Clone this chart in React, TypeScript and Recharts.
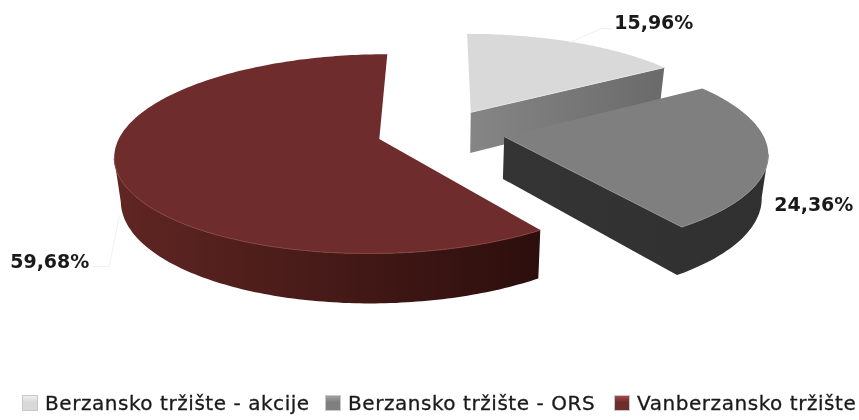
import { PieChart, Pie, Legend } from 'recharts';

const names = ['Berzansko tržište - akcije', 'Berzansko tržište - ORS', 'Vanberzansko tržište'];
const values = [15.96, 24.36, 59.68];

const topColors = ['#d9d9d9', '#7f7f7f', '#6e2c2c'];
const rimColors = ['#e4e4e4', '#8e8e8e', '#84413e'];
const wallLeft = ['#868686', '#343434', '#602623'];
const wallRight = ['#6a6a6a', '#303030', '#2c0e0c'];
const iconEdges = ['#eeeeee', '#a0a0a0', '#a04a48'];

const chartData = names.map((name, i) => ({ name, value: values[i], fill: topColors[i] }));

const FONT = '"DejaVu Sans", sans-serif';
const EXPLODE = 64;
const TILT = 0.3626;
const PERSPECTIVE = 0.00056;
const DEPTH = 42;
const BOTTOM_SHRINK = 0.98;
const X_SQUEEZE = 0.98;

// where each label sits relative to the rim point at the slice's mid angle
const labelOffsets = [
  { dx: 40, dy: -19 },
  { dx: 6, dy: 49 },
  { dx: -106, dy: 93 },
];
const leaders = [
  [[-4, 0], [27, -14], [37, -14]],
  [],
  [[3, 47], [-7, 97], [-24, 97]],
];
const legendLefts = [22, 325, 614];

const rad = (deg: number) => (deg * Math.PI) / 180;

// ground plane point -> screen, with simple perspective
function project(cx: number, cy: number, X: number, Y: number, bottom = false) {
  const s = 1 / (1 - Y * PERSPECTIVE);
  return {
    x: cx + X * s * (bottom ? BOTTOM_SHRINK : 1),
    y: cy + TILT * Y * s + (bottom ? DEPTH * s : 0),
  };
}

function rimPoint(cx: number, cy: number, r: number, mid: number, angle: number, bottom = false) {
  const X = EXPLODE * Math.cos(rad(mid)) + X_SQUEEZE * r * Math.cos(rad(angle));
  const Y = -EXPLODE * Math.sin(rad(mid)) - r * Math.sin(rad(angle));
  return project(cx, cy, X, Y, bottom);
}

const toPath = (pts: { x: number; y: number }[]) =>
  pts.map((p, i) => `${i ? 'L' : 'M'}${p.x.toFixed(1)},${p.y.toFixed(1)}`).join(' ');

function Slice3D(props: any) {
  const { cx, cy, outerRadius, startAngle, endAngle, index } = props;
  const mid = (startAngle + endAngle) / 2;
  const from = Math.min(startAngle, endAngle);
  const to = Math.max(startAngle, endAngle);

  const apexAt = (bottom: boolean) => rimPoint(cx, cy, 0, mid, 0, bottom);
  const arcAngles: number[] = [];
  for (let a = from; a < to; a += 1) arcAngles.push(a);
  arcAngles.push(to);

  const outline = [apexAt(false), ...arcAngles.map((a) => rimPoint(cx, cy, outerRadius, mid, a))];
  const outlineLow = [apexAt(true), ...arcAngles.map((a) => rimPoint(cx, cy, outerRadius, mid, a, true))];
  outline.push(outline[0]);
  outlineLow.push(outlineLow[0]);

  // walls that face the viewer are the runs going left to right
  const walls: string[] = [];
  const rims: string[] = [];
  let run: number[] = [];
  const flush = () => {
    if (!run.length) return;
    const first = run[0];
    const last = run[run.length - 1] + 1;
    const top = outline.slice(first, last + 1);
    const low = outlineLow.slice(first, last + 1).reverse();
    // skip the thin slivers along near vertical cut edges
    if (top[top.length - 1].x - top[0].x > 10) {
      walls.push(toPath([...top, ...low]) + ' Z');
      rims.push(toPath(top));
    }
    run = [];
  };
  for (let i = 0; i < outline.length - 1; i += 1) {
    if (outline[i + 1].x > outline[i].x) run.push(i);
    else flush();
  }
  flush();

  const xs = outline.map((p) => p.x);
  const gradId = `wall-${index}`;

  return (
    <g>
      <defs>
        <linearGradient
          id={gradId}
          gradientUnits="userSpaceOnUse"
          x1={Math.min(...xs)}
          x2={Math.max(...xs)}
          y1={0}
          y2={0}
        >
          <stop offset="0%" stopColor={wallLeft[index]} />
          <stop offset="100%" stopColor={wallRight[index]} />
        </linearGradient>
      </defs>
      {walls.map((d, i) => (
        <path key={i} d={d} fill={`url(#${gradId})`} />
      ))}
      <path d={toPath(outline) + ' Z'} fill={topColors[index]} />
      {rims.map((d, i) => (
        <path key={i} d={d} fill="none" stroke={rimColors[index]} strokeWidth={1} />
      ))}
    </g>
  );
}

function renderLabel(props: any) {
  const { cx, cy, outerRadius, midAngle, index, value } = props;
  const rim = rimPoint(cx, cy, outerRadius, midAngle, midAngle);
  const off = labelOffsets[index];
  const line = leaders[index].map(([dx, dy]) => `${rim.x + dx},${rim.y + dy}`).join(' ');
  return (
    <g key={index}>
      {line && <polyline points={line} fill="none" stroke="#f0f0f0" strokeWidth={1} />}
      <text
        x={rim.x + off.dx}
        y={rim.y + off.dy}
        fontFamily={FONT}
        fontSize={19}
        fontWeight={700}
        fill="#1a1a1a"
        dominantBaseline="middle"
      >
        {value.toFixed(2).replace('.', ',')}%
      </text>
    </g>
  );
}

function renderLegend({ payload }: any) {
  return (
    <div style={{ position: 'relative', height: 24, fontFamily: FONT, fontSize: 20, letterSpacing: 0.55, color: '#1a1a1a', WebkitTextStroke: '0.3px #1a1a1a' }}>
      {(payload || []).map((entry: any, i: number) => (
        <div
          key={entry.value}
          style={{ position: 'absolute', left: legendLefts[i], top: 0, whiteSpace: 'nowrap', display: 'flex', alignItems: 'center', gap: 7 }}
        >
          <span
            style={{
              width: 14,
              height: 14,
              background: `linear-gradient(${iconEdges[i]}, ${entry.color} 45%)`,
              border: '1px solid #c8c8c8',
              display: 'inline-block',
            }}
          />
          <span>{entry.value}</span>
        </div>
      ))}
    </div>
  );
}

export default function App() {
  return (
    <div style={{ position: 'absolute', left: 0, top: 0, width: 859, height: 420, background: '#fff', filter: 'blur(0.5px)' }}>
      <PieChart width={859} height={420} margin={{ top: 0, right: 0, bottom: 0, left: 0 }}>
        <Pie
          data={chartData}
          dataKey="value"
          nameKey="name"
          cx={441}
          cy={132}
          outerRadius={263}
          startAngle={90}
          endAngle={-270}
          paddingAngle={0}
          stroke="none"
          shape={Slice3D}
          label={renderLabel}
          labelLine={false}
          isAnimationActive={false}
          rootTabIndex={-1}
        />
        <Legend
          content={renderLegend}
          itemSorter={null}
          wrapperStyle={{ position: 'absolute', left: 0, top: 391, width: 859, height: 24 }}
        />
      </PieChart>
    </div>
  );
}
